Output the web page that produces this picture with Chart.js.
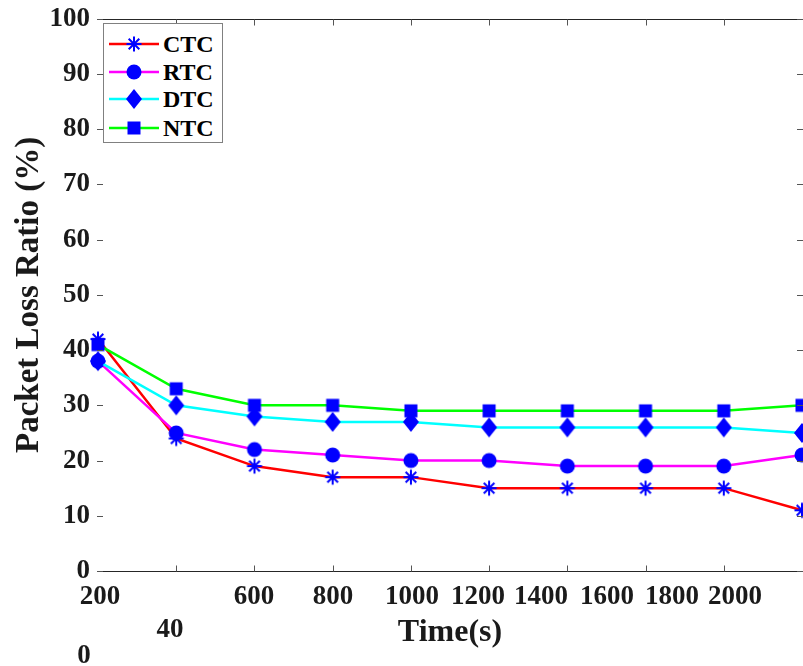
<!DOCTYPE html>
<html><head><meta charset="utf-8">
<script src="https://cdn.jsdelivr.net/npm/chart.js@4.4.0/dist/chart.umd.min.js"></script>
<style>
body{margin:0;background:#fff}
#wrap{position:relative;width:803px;height:666px;overflow:hidden}
#legend{position:absolute;left:103px;top:23px;width:118px;height:118px;border:1px solid #808080;background:#fff}
.row{position:absolute;left:0;width:118px;height:28px}
.row canvas{position:absolute;left:5px;top:2px}
.row span{position:absolute;left:59px;top:0;font:bold 24px 'Liberation Serif',serif;line-height:28px;color:#000}
</style></head><body>
<div id="wrap"><canvas id="c" width="803" height="666"></canvas><div id="legend"></div></div>
<script>
// ---- data ----
const timeValues = [200, 400, 600, 800, 1000, 1200, 1400, 1600, 1800, 2000];
const seriesNames = ['CTC', 'RTC', 'DTC', 'NTC'];
const ctcValues = [42, 24, 19, 17, 17, 15, 15, 15, 15, 11];
const rtcValues = [38, 25, 22, 21, 20, 20, 19, 19, 19, 21];
const dtcValues = [38, 30, 28, 27, 27, 26, 26, 26, 26, 25];
const ntcValues = [41, 33, 30, 30, 29, 29, 29, 29, 29, 30];
const xTickLabels = ['200', '400', '600', '800', '1000', '1200', '1400', '1600', '1800', '2000'];
const xTitle = 'Time(s)';
const yTitle = 'Packet Loss Ratio (%)';

// ---- styles / layout (not data) ----
const lineColors = ['#ff0000', '#ff00ff', '#00ffff', '#00ff00'];
const markerKinds = ['star', 'circle', 'diamond', 'square'];
const markerColor = '#0000ff';
const textColor = '#1a1a1a';
const axisColor = '#262626';
// where each x tick label was rendered in the original figure (pieces of a label: [from,to,x,y])
const xLabelPlacement = [
  [[0, 3, 100, 597]],
  [[0, 2, 170, 630], [2, 3, 84, 656]],
  [[0, 3, 254, 597]],
  [[0, 3, 333, 597]],
  [[0, 4, 412, 597]],
  [[0, 4, 478, 597]],
  [[0, 4, 541, 597]],
  [[0, 4, 607, 597]],
  [[0, 4, 672, 597]],
  [[0, 4, 735, 597]]
];

function drawMarker(ctx, kind, cx, cy) {
  ctx.fillStyle = markerColor;
  ctx.strokeStyle = markerColor;
  ctx.beginPath();
  if (kind === 'circle') {
    ctx.arc(cx, cy, 7.5, 0, Math.PI * 2); ctx.fill();
  } else if (kind === 'square') {
    ctx.rect(cx - 6.5, cy - 6.5, 13, 13); ctx.fill();
  } else if (kind === 'diamond') {
    ctx.moveTo(cx, cy - 10); ctx.lineTo(cx + 8, cy); ctx.lineTo(cx, cy + 10); ctx.lineTo(cx - 8, cy); ctx.closePath(); ctx.fill();
  } else if (kind === 'star') {
    ctx.lineWidth = 2;
    const r = 7.5;
    for (let k = 0; k < 4; k++) {
      const a = k * Math.PI / 4;
      ctx.moveTo(cx - r * Math.cos(a), cy - r * Math.sin(a));
      ctx.lineTo(cx + r * Math.cos(a), cy + r * Math.sin(a));
    }
    ctx.stroke();
  }
}
function markerCanvas(kind) {
  const c = document.createElement('canvas');
  c.width = 20; c.height = 24;
  drawMarker(c.getContext('2d'), kind, 10, 12);
  return c;
}

const seriesValues = [ctcValues, rtcValues, dtcValues, ntcValues];
const datasets = seriesNames.map((name, i) => ({
  label: name,
  data: timeValues.map((t, j) => ({ x: t, y: seriesValues[i][j] })),
  borderColor: lineColors[i],
  backgroundColor: lineColors[i],
  borderWidth: 2.5,
  tension: 0,
  pointStyle: markerCanvas(markerKinds[i]),
  pointRadius: 8,
  clip: 12,
  order: 4 - i
}));

const framePlugin = {
  id: 'frame',
  afterDraw(chart) {
    const { ctx, chartArea: a, scales: { x, y } } = chart;
    ctx.save();
    ctx.strokeStyle = axisColor;
    ctx.lineWidth = 1.2;
    ctx.beginPath();
    const top = Math.round(a.top) + 0.5, bot = Math.round(a.bottom) + 0.5;
    ctx.moveTo(a.left, top); ctx.lineTo(a.right + 2, top);
    ctx.moveTo(a.left, bot); ctx.lineTo(a.right + 2, bot);
    ctx.stroke();
    ctx.strokeStyle = '#555';
    ctx.lineWidth = 1;
    ctx.beginPath();
    const tl = 6;
    x.ticks.forEach(t => {
      if (t.value <= x.min || t.value >= x.max) return;
      const px = Math.round(x.getPixelForValue(t.value)) + 0.5;
      ctx.moveTo(px, bot); ctx.lineTo(px, bot - tl);
      ctx.moveTo(px, top); ctx.lineTo(px, top + tl);
    });
    y.ticks.forEach(t => {
      const py = Math.round(y.getPixelForValue(t.value)) + 0.5;
      ctx.moveTo(a.left - 1, py); ctx.lineTo(a.left - 1 + tl, py);
      ctx.moveTo(a.right + 1, py); ctx.lineTo(a.right + 1 - tl, py);
    });
    ctx.stroke();
    // x tick labels
    ctx.fillStyle = textColor;
    ctx.font = "bold 27px 'Liberation Serif', serif";
    ctx.textAlign = 'center';
    ctx.textBaseline = 'middle';
    xTickLabels.forEach((lab, i) => {
      xLabelPlacement[i].forEach(p => ctx.fillText(lab.slice(p[0], p[1]), p[2], p[3]));
    });
    ctx.restore();
  }
};

new Chart(document.getElementById('c'), {
  type: 'line',
  data: { datasets },
  options: {
    responsive: false,
    animation: false,
    devicePixelRatio: 1,
    layout: { autoPadding: false, padding: { top: 18, right: 1, left: 0, bottom: 0 } },
    plugins: { legend: { display: false }, tooltip: { enabled: false } },
    scales: {
      x: {
        type: 'linear', min: 200, max: 2000,
        ticks: { display: false, stepSize: 200 },
        grid: { display: false },
        border: { display: false },
        title: { display: true, text: xTitle, color: textColor, font: { family: "'Liberation Serif', serif", size: 32, weight: 'bold' }, padding: { top: 0, bottom: 14 } },
        afterFit(s) { s.height = 95; }
      },
      y: {
        min: 0, max: 100,
        ticks: { stepSize: 10, color: textColor, padding: 8, font: { family: "'Liberation Serif', serif", size: 27, weight: 'bold', lineHeight: 0.8 } },
        grid: { display: false, drawTicks: false },
        border: { display: false },
        title: { display: true, text: yTitle, color: textColor, font: { family: "'Liberation Serif', serif", size: 33, weight: 'bold' }, padding: { top: 10, bottom: 0 } },
        afterFit(s) { s.width = 98; }
      }
    }
  },
  plugins: [framePlugin]
});

// legend (line sample + marker + name), built from series names/styles
const legendEl = document.getElementById('legend');
const rowTops = [6, 34, 61, 90];
seriesNames.forEach((name, i) => {
  const row = document.createElement('div');
  row.className = 'row';
  row.style.top = rowTops[i] + 'px';
  const c = document.createElement('canvas');
  c.width = 50; c.height = 24;
  const g = c.getContext('2d');
  g.strokeStyle = lineColors[i]; g.lineWidth = 2.5;
  g.beginPath(); g.moveTo(0, 12); g.lineTo(50, 12); g.stroke();
  drawMarker(g, markerKinds[i], 25, 12);
  const s = document.createElement('span');
  s.textContent = name;
  row.appendChild(c); row.appendChild(s);
  legendEl.appendChild(row);
});
</script>
</body></html>
